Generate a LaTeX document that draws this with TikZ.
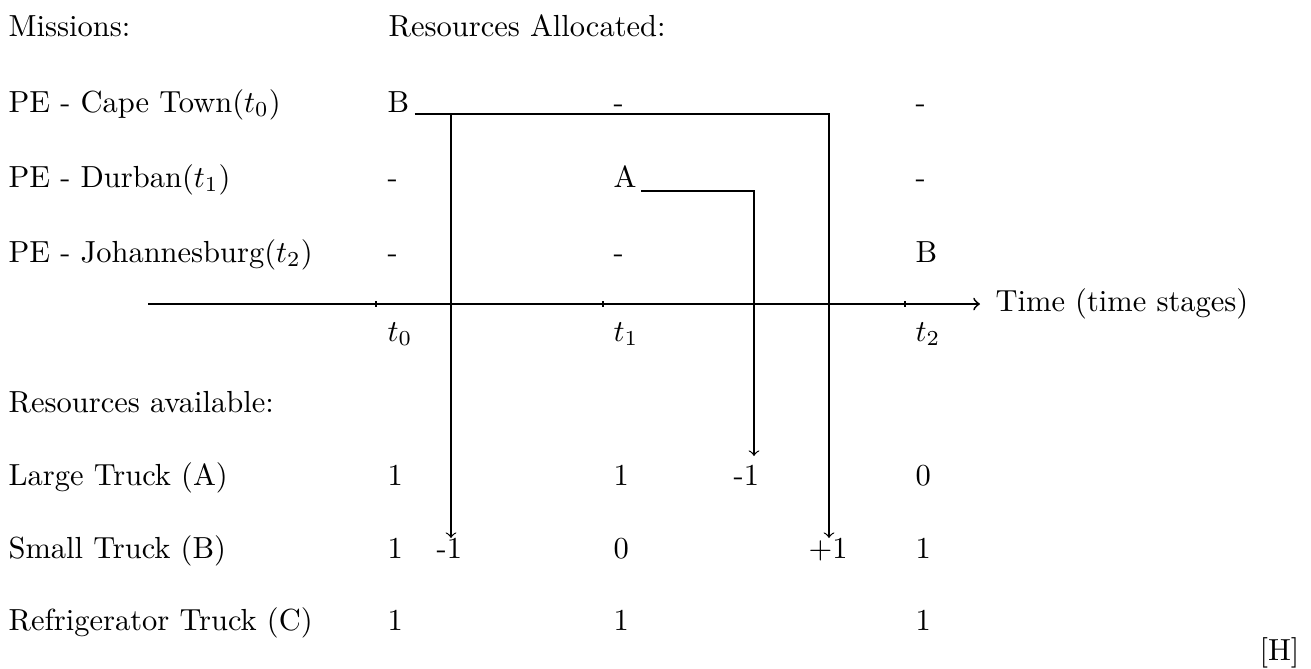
\documentclass[tikz,border=0pt]{standalone}
\begin{document}
\begin{tikzpicture}[x=0.32787pt,y=-0.32787pt,
  txt/.style={anchor=base west,inner sep=0pt},
  conn/.style={line width=0.4pt},
  axisline/.style={line width=0.6pt}]
\useasboundingbox (0,0) rectangle (1311,668);
% left column labels
\node[txt] (missions) at (8,36) {Missions:};
\node[txt] (alloc) at (388,36) {Resources Allocated:};
\node[txt] (cape) at (8,112) {PE - Cape Town($t_0$)};
\node[txt] (durban) at (8,187) {PE - Durban($t_1$)};
\node[txt] (joburg) at (8,262) {PE - Johannesburg($t_2$)};
\node[txt] (avail) at (8,412) {Resources available:};
\node[txt] (large) at (8,485) {Large Truck (A)};
\node[txt] (small) at (8,558) {Small Truck (B)};
\node[txt] (refr) at (8,630) {Refrigerator Truck (C)};
% allocations
\node[txt] (cB) at (387,112) {B};
\node[txt] (c01) at (613,112) {-};
\node[txt] (c02) at (915,112) {-};
\node[txt] (d00) at (387,187) {-};
\node[txt] (dA) at (613,187) {A};
\node[txt] (d02) at (915,187) {-};
\node[txt] (j00) at (387,262) {-};
\node[txt] (j01) at (613,262) {-};
\node[txt] (jB) at (915,262) {B};
% axis
\coordinate (axL) at (148,304);
\coordinate (axR) at (980,304);
\draw[axisline,->] (axL) -- (axR);
\node[txt] (time) at (995,311) {Time (time stages)};
\coordinate (k0) at (376,304);
\coordinate (k1) at (603,304);
\coordinate (k2) at (905,304);
\foreach \k in {k0,k1,k2} \draw[conn] (\k) ++(0,-3) -- ++(0,6);
\node[txt] (t0) at (387,341) {$t_0$};
\node[txt] (t1) at (613,341) {$t_1$};
\node[txt] (t2) at (915,341) {$t_2$};
% resources
\node[txt] (l0) at (387,485) {1};
\node[txt] (l1) at (613,485) {1};
\node[txt] (lm) at (733,485) {-1};
\node[txt] (l2) at (915,485) {0};
\node[txt] (s0) at (387,558) {1};
\node[txt] (sm) at (436,558) {-1};
\node[txt] (s1) at (613,558) {0};
\node[txt] (sp) at (808,558) {+1};
\node[txt] (s2) at (915,558) {1};
\node[txt] (r0) at (387,630) {1};
\node[txt] (r1) at (613,630) {1};
\node[txt] (r2) at (915,630) {1};
% arrow ends
\coordinate (tipB1) at (451,538);
\coordinate (tipB2) at (829,538);
\coordinate (tipA) at (754,456);
\draw[conn,->] ([shift={(5,2)}]cB.base east) -| (tipB1);
\draw[conn,->] ([shift={(5,2)}]cB.base east) -| (tipB2);
\draw[conn,->] ([shift={(4,4)}]dA.base east) -| (tipA);
\node[anchor=base east,inner sep=0pt] (H) at (1300,660) {[H]};
\end{tikzpicture}
\end{document}
